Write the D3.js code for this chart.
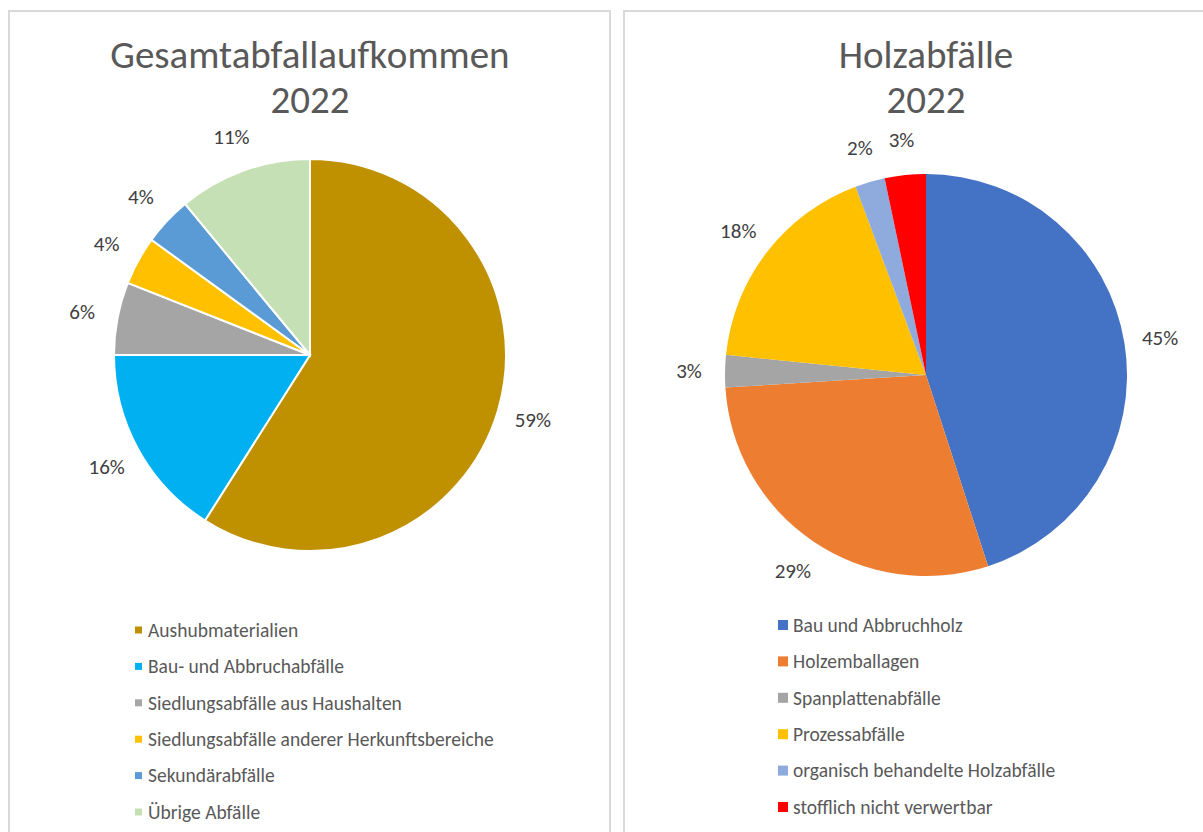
<!DOCTYPE html>
<html>
<head>
<meta charset="utf-8">
<script src="https://cdn.jsdelivr.net/npm/d3@7"></script>
<style>
  body { margin: 0; background: #fff; }
  svg text { font-family: Carlito, Calibri, Lato, sans-serif; fill: #595959; }
</style>
</head>
<body>
<svg id="chart" width="1203" height="832"></svg>
<script>
// left chart
const totalCats = ['Aushubmaterialien', 'Bau- und Abbruchabfälle', 'Siedlungsabfälle aus Haushalten',
  'Siedlungsabfälle anderer Herkunftsbereiche', 'Sekundärabfälle', 'Übrige Abfälle'];
const totalVals = [59, 16, 6, 4, 4, 11];
const totalColors = ['#BF9000', '#00B0F0', '#A5A5A5', '#FFC000', '#5B9BD5', '#C5E0B4'];

// right chart
const woodCats = ['Bau und Abbruchholz', 'Holzemballagen', 'Spanplattenabfälle', 'Prozessabfälle',
  'organisch behandelte Holzabfälle', 'stofflich nicht verwertbar'];
const woodVals = [45.0, 29.0, 2.6, 17.7, 2.4, 3.3];
const woodColors = ['#4472C4', '#ED7D31', '#A5A5A5', '#FFC000', '#8FAADC', '#FF0000'];

const svg = d3.select('#chart');

// panel frames
svg.append('rect').attr('x', 9).attr('y', 11).attr('width', 601).attr('height', 840)
  .attr('fill', 'none').attr('stroke', '#d9d9d9').attr('stroke-width', 2);
svg.append('rect').attr('x', 624).attr('y', 11).attr('width', 600).attr('height', 840)
  .attr('fill', 'none').attr('stroke', '#d9d9d9').attr('stroke-width', 2);

function drawPie(opt) {
  const g = svg.append('g');
  const data = opt.vals.map((v, i) => ({ name: opt.cats[i], value: v, color: opt.colors[i] }));
  const total = d3.sum(opt.vals);

  const pie = d3.pie().sort(null).value(d => d.value);
  const arc = d3.arc().innerRadius(0).outerRadius(opt.r);
  const labelArc = d3.arc().innerRadius(opt.r + 36).outerRadius(opt.r + 36);

  // title
  g.append('text').attr('x', opt.cx).attr('y', 68).attr('text-anchor', 'middle')
    .style('font-size', '39px').text(opt.title);
  g.append('text').attr('x', opt.cx).attr('y', 113).attr('text-anchor', 'middle')
    .style('font-size', '39px').text('2022');

  const pg = g.append('g').attr('transform', `translate(${opt.cx},${opt.cy})`);
  const arcs = pie(data);
  pg.selectAll('path').data(arcs).enter().append('path')
    .attr('d', arc)
    .attr('fill', d => d.data.color)
    .attr('stroke', '#fff')
    .attr('stroke-width', opt.stroke);

  pg.selectAll('text').data(arcs).enter().append('text')
    .attr('transform', d => 'translate(' + labelArc.centroid(d) + ')')
    .attr('text-anchor', 'middle')
    .attr('dy', '0.35em')
    .style('font-size', '21px')
    .style('fill', '#404040')
    .text(d => Math.round(d.data.value / total * 100) + '%');

  // legend
  const lg = g.append('g');
  const rows = lg.selectAll('g').data(data).enter().append('g')
    .attr('transform', (d, i) => `translate(${opt.lx},${opt.ly + i * 36.4})`);
  rows.append('rect')
    .attr('x', 0).attr('y', -opt.sq / 2).attr('width', opt.sq).attr('height', opt.sq)
    .attr('fill', d => d.color);
  rows.append('text')
    .attr('x', opt.tx).attr('dy', '0.35em')
    .style('font-size', '19.5px')
    .text(d => d.name);
}

drawPie({
  title: 'Gesamtabfallaufkommen', cats: totalCats, vals: totalVals, colors: totalColors,
  cx: 310, cy: 355, r: 196, stroke: 2, lx: 135, ly: 630, sq: 7, tx: 13
});
drawPie({
  title: 'Holzabfälle', cats: woodCats, vals: woodVals, colors: woodColors,
  cx: 926, cy: 375, r: 201, stroke: 0, lx: 778, ly: 625, sq: 10, tx: 15
});
</script>
</body>
</html>
